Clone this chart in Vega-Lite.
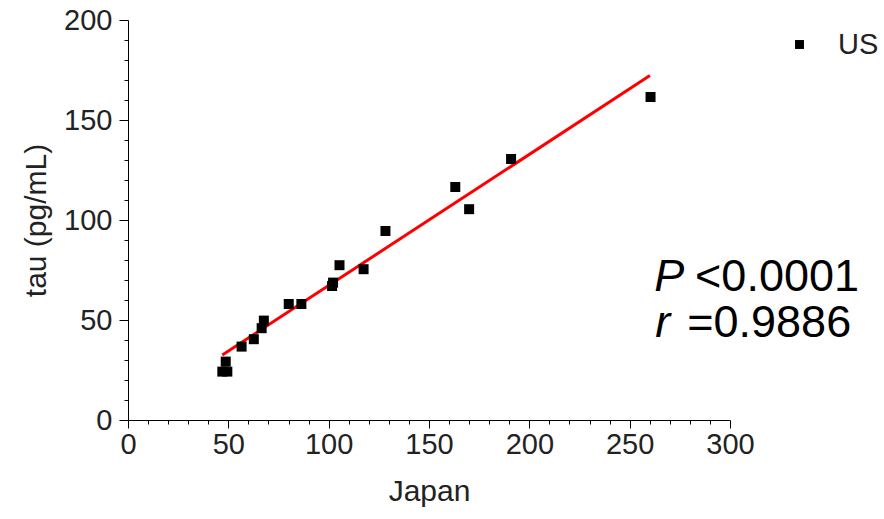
{
  "$schema": "https://vega.github.io/schema/vega-lite/v6.json",
  "autosize": "none",
  "width": 602,
  "height": 400,
  "padding": {"left": 128, "top": 20, "right": 154, "bottom": 99},
  "background": "white",
  "config": {
    "view": {"stroke": null},
    "font": "Liberation Sans",
    "axis": {
      "domainColor": "#000",
      "tickColor": "#000",
      "labelColor": "#222",
      "titleColor": "#222",
      "titleFontSize": 30,
      "titleFontWeight": "normal",
      "labelOverlap": false,
      "labelBound": false,
      "labelFlush": false,
      "grid": false
    }
  },
  "datasets": {
    "points": [
      {"Japan": 47.0, "tau": 24.2, "series": "US"},
      {"Japan": 49.5, "tau": 24.2, "series": "US"},
      {"Japan": 48.7, "tau": 29.2, "series": "US"},
      {"Japan": 56.6, "tau": 36.7, "series": "US"},
      {"Japan": 62.7, "tau": 40.4, "series": "US"},
      {"Japan": 66.6, "tau": 45.9, "series": "US"},
      {"Japan": 67.7, "tau": 49.7, "series": "US"},
      {"Japan": 80.1, "tau": 58.0, "series": "US"},
      {"Japan": 86.4, "tau": 58.0, "series": "US"},
      {"Japan": 101.7, "tau": 67.0, "series": "US"},
      {"Japan": 102.2, "tau": 68.7, "series": "US"},
      {"Japan": 105.4, "tau": 77.4, "series": "US"},
      {"Japan": 117.4, "tau": 75.4, "series": "US"},
      {"Japan": 128.3, "tau": 94.5, "series": "US"},
      {"Japan": 163.1, "tau": 116.5, "series": "US"},
      {"Japan": 170.0, "tau": 105.4, "series": "US"},
      {"Japan": 190.9, "tau": 130.5, "series": "US"},
      {"Japan": 260.4, "tau": 161.5, "series": "US"}
    ],
    "fit": [
      {"Japan": 47.0, "tau": 32.5},
      {"Japan": 260.1, "tau": 172.2}
    ],
    "italic": [
      {"Japan": 262.3, "tau": 64.5, "label": "P"},
      {"Japan": 262.8, "tau": 41.5, "label": "r"}
    ],
    "plain": [
      {"Japan": 282.6, "tau": 64.5, "label": "<0.0001"},
      {"Japan": 278.7, "tau": 41.5, "label": "=0.9886"}
    ]
  },
  "layer": [
    {
      "data": {"name": "fit"},
      "mark": {"type": "line", "color": "#ff0000", "strokeWidth": 3},
      "encoding": {
        "x": {
          "field": "Japan", "type": "quantitative",
          "scale": {"domain": [0, 300], "nice": false},
          "axis": {
            "title": "Japan",
            "values": [0,10,20,30,40,50,60,70,80,90,100,110,120,130,140,150,160,170,180,190,200,210,220,230,240,250,260,270,280,290,300],
            "tickCount": 100,
            "labelExpr": "datum.value % 50 === 0 ? datum.label : ''",
            "labelFontSize": {"condition": {"test": "datum.value % 50 === 0", "value": 29}, "value": 0},
            "labelOverlap": false,
            "tickSize": {"condition": {"test": "datum.value % 50 === 0", "value": 8}, "value": 4},
            "labelPadding": 2,
            "titlePadding": 17
          }
        },
        "y": {
          "field": "tau", "type": "quantitative",
          "scale": {"domain": [0, 200], "nice": false},
          "axis": {
            "title": "tau (pg/mL)",
            "values": [0,10,20,30,40,50,60,70,80,90,100,110,120,130,140,150,160,170,180,190,200],
            "tickCount": 100,
            "labelExpr": "datum.value % 50 === 0 ? datum.label : ''",
            "labelFontSize": {"condition": {"test": "datum.value % 50 === 0", "value": 29}, "value": 0},
            "labelOverlap": false,
            "tickSize": {"condition": {"test": "datum.value % 50 === 0", "value": 9}, "value": 4},
            "labelPadding": 7,
            "titlePadding": 12
          }
        }
      }
    },
    {
      "data": {"name": "points"},
      "mark": {"type": "point", "shape": "square", "filled": true, "size": 100, "opacity": 1},
      "encoding": {
        "x": {"field": "Japan", "type": "quantitative"},
        "y": {"field": "tau", "type": "quantitative"},
        "color": {
          "field": "series", "type": "nominal",
          "scale": {"range": ["#000000"]},
          "legend": {
            "title": null,
            "orient": "none",
            "legendX": 657,
            "legendY": 10,
            "symbolSize": 80,
            "labelFontSize": 29,
            "labelColor": "#222",
            "labelOffset": 24,
            "symbolType": "square"
          }
        }
      }
    },
    {
      "data": {"name": "italic"},
      "mark": {"type": "text", "align": "left", "baseline": "alphabetic", "fontSize": 45, "fontStyle": "italic", "color": "#000"},
      "encoding": {
        "x": {"field": "Japan", "type": "quantitative"},
        "y": {"field": "tau", "type": "quantitative"},
        "text": {"field": "label"}
      }
    },
    {
      "data": {"name": "plain"},
      "mark": {"type": "text", "align": "left", "baseline": "alphabetic", "fontSize": 45, "color": "#000"},
      "encoding": {
        "x": {"field": "Japan", "type": "quantitative"},
        "y": {"field": "tau", "type": "quantitative"},
        "text": {"field": "label"}
      }
    }
  ]
}
